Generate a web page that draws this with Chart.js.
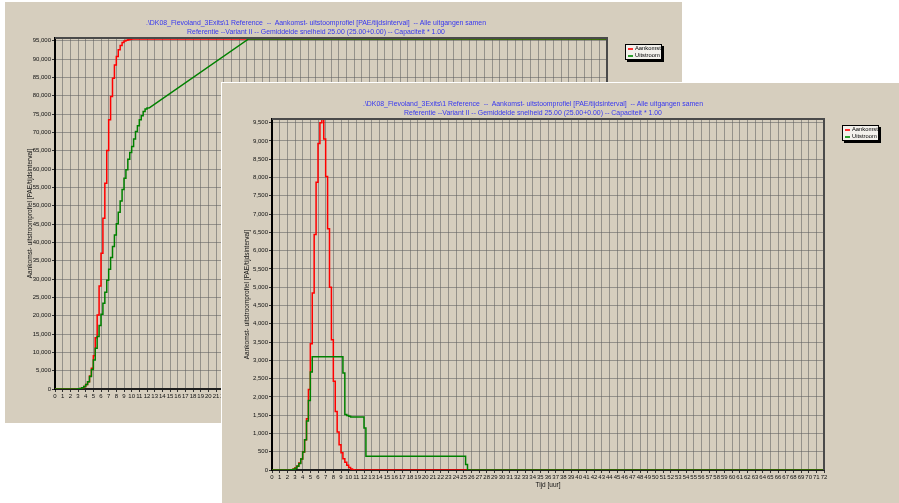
<!DOCTYPE html>
<html>
<head>
<meta charset="utf-8">
<script src="https://cdn.jsdelivr.net/npm/chart.js@4.4.1/dist/chart.umd.min.js"></script>
<style>
    body { margin: 0; width: 899px; height: 503px; overflow: hidden; position: relative; background: #ffffff;
           font-family: "Liberation Sans", Arial, sans-serif; }
    .win { position: absolute; width: 677px; height: 421px; background: #d6cebe; }
    .win canvas { position: absolute; left: 0; top: 0; }
    #backWin { left: 5px; top: 2px; }
    #frontWin { left: 222px; top: 83px; box-shadow: -1px -1px 0 #ffffff; }
    .title { position: absolute; left: 111px; top: 16px; width: 400px; text-align: center; white-space: pre;
             color: #3636f0; font-size: 6.9px; line-height: 9px; }
    .legend { position: absolute; left: 620px; top: 42px; width: 35px; height: 14px; background: #f3f1ec;
              border: 1px solid #000; box-shadow: 2px 2px 0 #000; font-size: 5.8px; color: #000; }
    .legend div { height: 7px; line-height: 7px; padding-left: 9px; position: relative; }
    .legend span { position: absolute; left: 2px; top: 3px; width: 5px; height: 1.5px; }
</style>
</head>
<body>

<div class="win" id="backWin">
    <canvas id="cumChart" width="677" height="421"></canvas>
    <div class="title">.\DK08_Flevoland_3Exits\1 Reference  --  Aankomst- uitstoomprofiel [PAE/tijdsinterval]  -- Alle uitgangen samen
Referentie --Variant II -- Gemiddelde snelheid 25.00 (25.00+0.00) -- Capaciteit * 1.00</div>
    <div class="legend"><div><span style="background:#ff3030"></span>Aankomst</div><div><span style="background:#30a030"></span>Uitstroom</div></div>
</div>

<div class="win" id="frontWin">
    <canvas id="intervalChart" width="677" height="421"></canvas>
    <div class="title">.\DK08_Flevoland_3Exits\1 Reference  --  Aankomst- uitstoomprofiel [PAE/tijdsinterval]  -- Alle uitgangen samen
Referentie --Variant II -- Gemiddelde snelheid 25.00 (25.00+0.00) -- Capaciteit * 1.00</div>
    <div class="legend"><div><span style="background:#ff3030"></span>Aankomst</div><div><span style="background:#30a030"></span>Uitstroom</div></div>
</div>

<script>
// ======================
// DATA (time in hours, value in PAE)
// ======================
const yAxisTitle = "Aankomst- uitstroomprofiel [PAE/tijdsinterval]";
const xAxisTitle = "Tijd [uur]";

// per interval profile (front window)
const arrivalTimes = [0, 2.5, 2.75, 3, 3.25, 3.5, 3.75, 4, 4.25, 4.5, 4.75, 5, 5.25, 5.5, 5.75, 6, 6.25, 6.5, 6.75,
    7, 7.25, 7.5, 7.75, 8, 8.25, 8.5, 8.75, 9, 9.25, 9.5, 9.75, 10, 10.25, 10.5, 10.75, 72];
const arrivalValues = [0, 10, 30, 60, 110, 190, 300, 490, 830, 1400, 2200, 3450, 4840, 6440, 7870, 8930, 9500, 9600, 9050,
    8030, 6600, 5000, 3560, 2430, 1600, 1040, 690, 475, 310, 210, 128, 66, 27, 10, 0, 0];

const outflowTimes = [0, 2.5, 2.75, 3, 3.25, 3.5, 3.75, 4, 4.25, 4.5, 4.75, 5, 5.25, 9.25, 9.5, 9.75, 10, 10.25,
    12, 12.25, 25.25, 25.5, 72];
const outflowValues = [0, 5, 20, 50, 100, 180, 300, 490, 830, 1340, 1900, 2680, 3100, 2650, 1520, 1490, 1470, 1450,
    1150, 375, 150, 0, 0];

// cumulative profile (back window)
const cumArrivalTimes = [0, 3, 3.25, 3.5, 3.75, 4, 4.25, 4.5, 4.75, 5, 5.25, 5.5, 5.75, 6, 6.25, 6.5, 6.75, 7, 7.25,
    7.5, 7.75, 8, 8.25, 8.5, 8.75, 9, 9.25, 9.5, 9.75, 10, 10.5, 72];
const cumArrivalValues = [0, 50, 150, 350, 700, 1200, 2000, 3550, 5650, 9100, 14000, 20200, 28100, 37000, 46600,
    56150, 65050, 73440, 79800, 84800, 88370, 90720, 92550, 93720, 94540, 94900, 95150, 95300, 95400, 95450, 95500, 95500];

const cumOutflowTimes = [0, 3, 3.25, 3.5, 3.75, 4, 4.25, 4.5, 4.75, 5, 5.25, 5.5, 5.75, 6, 6.25, 6.5, 6.75, 7, 7.25,
    7.5, 7.75, 8, 8.25, 8.5, 8.75, 9, 9.25, 9.5, 9.75, 10, 10.25, 10.5, 10.75, 11, 11.25, 11.5, 11.75, 12, 12.25];
const cumOutflowValues = [0, 50, 150, 350, 700, 1200, 2000, 3400, 5300, 7900, 11100, 14300, 17300, 20400, 23400,
    26400, 29700, 32700, 35900, 38900, 42000, 45100, 48200, 51300, 54400, 57500, 59800, 62700, 64500, 66150, 68170,
    70250, 71800, 73450, 74530, 75700, 76350, 76650, 76650];
// after 12.25 h the cumulative outflow rises as a straight line
const cumOutflowRampTimes = [12.25, 25.25, 72];
const cumOutflowRampValues = [76650, 95500, 95500];

const RED = "#ff0000";
const GREEN = "#008000";

function toPoints(times, values) {
    return times.map((t, i) => ({ x: t, y: values[i] }));
}

// plot frame (top and right edge)
const framePlugin = {
    id: "frame",
    afterDraw(chart) {
        const { ctx, chartArea: a } = chart;
        ctx.save();
        ctx.strokeStyle = "#4a4a4a";
        ctx.lineWidth = 2;
        ctx.beginPath();
        ctx.moveTo(a.left, a.top);
        ctx.lineTo(a.right, a.top);
        ctx.lineTo(a.right, a.bottom);
        ctx.stroke();
        ctx.restore();
    }
};

function lineSet(label, points, color, order, stepped) {
    return {
        label: label,
        data: points,
        borderColor: color,
        borderWidth: 1.5,
        pointRadius: 0,
        fill: false,
        stepped: stepped,
        order: order
    };
}

// fixed tick list, chart.js would otherwise stretch the step to fit max
function fixedTicks(step, last) {
    return (scale) => {
        const ticks = [];
        for (let v = 0; v <= last; v += step) ticks.push({ value: v });
        scale.ticks = ticks;
    };
}

function makeChart(id, yMax, yStep, yLast, datasets) {
    const tickFont = { family: "'Liberation Sans', Arial, sans-serif", size: 6 };
    const titleFont = { family: "'Liberation Sans', Arial, sans-serif", size: 6.5 };
    return new Chart(document.getElementById(id), {
        type: "line",
        data: { datasets: datasets },
        options: {
            responsive: false,
            animation: false,
            layout: { padding: { left: 21, top: 36, right: 75, bottom: 15 } },
            plugins: { legend: { display: false }, tooltip: { enabled: false } },
            scales: {
                x: {
                    type: "linear",
                    min: 0,
                    max: 72,
                    afterFit: (s) => { s.height = 19; },
                    afterBuildTicks: fixedTicks(1, 72),
                    ticks: { autoSkip: false, maxRotation: 0, minRotation: 0, padding: 1,
                             color: "#111", font: tickFont },
                    grid: { color: "rgba(95,95,95,0.55)", tickColor: "#333", tickLength: 3 },
                    border: { color: "#202020", width: 2 },
                    title: { display: true, text: xAxisTitle, color: "#111", font: titleFont, padding: 0 }
                },
                y: {
                    min: 0,
                    max: yMax,
                    afterFit: (s) => { s.width = 29; },
                    afterBuildTicks: fixedTicks(yStep, yLast),
                    ticks: { padding: 1, color: "#111", font: tickFont,
                             callback: (v) => v.toLocaleString("en-US") },
                    grid: { color: "rgba(95,95,95,0.55)", tickColor: "#333", tickLength: 3 },
                    border: { color: "#000", width: 2 },
                    title: { display: true, text: yAxisTitle, color: "#111", font: titleFont, padding: 0 }
                }
            }
        },
        plugins: [framePlugin]
    });
}

makeChart("cumChart", 95750, 5000, 95000, [
    lineSet("Aankomst", toPoints(cumArrivalTimes, cumArrivalValues), RED, 2, "before"),
    lineSet("Uitstroom", toPoints(cumOutflowTimes, cumOutflowValues), GREEN, 1, "before"),
    lineSet("Uitstroom", toPoints(cumOutflowRampTimes, cumOutflowRampValues), GREEN, 0, false)
]);

makeChart("intervalChart", 9600, 500, 9500, [
    lineSet("Aankomst", toPoints(arrivalTimes, arrivalValues), RED, 1, "before"),
    lineSet("Uitstroom", toPoints(outflowTimes, outflowValues), GREEN, 0, "before")
]);
</script>
</body>
</html>
